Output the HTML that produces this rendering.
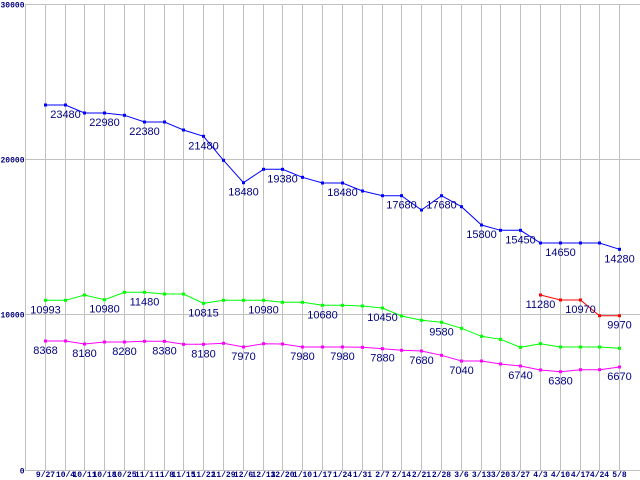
<!DOCTYPE html>
<html><head><meta charset="utf-8"><style>
html,body{margin:0;padding:0;background:#fff;}
svg{display:block;}
.ax{font-family:"Liberation Mono",monospace;font-weight:bold;font-size:8px;fill:#000080;}
.lb{font-family:"Liberation Sans",sans-serif;font-size:11px;fill:#000080;text-anchor:middle;}
</style></head><body>
<svg width="640" height="480" viewBox="0 0 640 480" xmlns="http://www.w3.org/2000/svg">
<rect width="640" height="480" fill="#fff"/>
<g stroke="#c0c0c0" stroke-width="1" shape-rendering="crispEdges">
<line x1="25" y1="4.5" x2="640" y2="4.5"/>
<line x1="25" y1="159.5" x2="640" y2="159.5"/>
<line x1="25" y1="314.5" x2="640" y2="314.5"/>
<line x1="25" y1="470.5" x2="640" y2="470.5"/>
<line x1="25.5" y1="4" x2="25.5" y2="471"/>
<line x1="45.5" y1="4" x2="45.5" y2="471"/>
<line x1="65.5" y1="4" x2="65.5" y2="471"/>
<line x1="84.5" y1="4" x2="84.5" y2="471"/>
<line x1="104.5" y1="4" x2="104.5" y2="471"/>
<line x1="124.5" y1="4" x2="124.5" y2="471"/>
<line x1="144.5" y1="4" x2="144.5" y2="471"/>
<line x1="164.5" y1="4" x2="164.5" y2="471"/>
<line x1="183.5" y1="4" x2="183.5" y2="471"/>
<line x1="203.5" y1="4" x2="203.5" y2="471"/>
<line x1="223.5" y1="4" x2="223.5" y2="471"/>
<line x1="243.5" y1="4" x2="243.5" y2="471"/>
<line x1="263.5" y1="4" x2="263.5" y2="471"/>
<line x1="282.5" y1="4" x2="282.5" y2="471"/>
<line x1="302.5" y1="4" x2="302.5" y2="471"/>
<line x1="322.5" y1="4" x2="322.5" y2="471"/>
<line x1="342.5" y1="4" x2="342.5" y2="471"/>
<line x1="362.5" y1="4" x2="362.5" y2="471"/>
<line x1="382.5" y1="4" x2="382.5" y2="471"/>
<line x1="401.5" y1="4" x2="401.5" y2="471"/>
<line x1="421.5" y1="4" x2="421.5" y2="471"/>
<line x1="441.5" y1="4" x2="441.5" y2="471"/>
<line x1="461.5" y1="4" x2="461.5" y2="471"/>
<line x1="481.5" y1="4" x2="481.5" y2="471"/>
<line x1="500.5" y1="4" x2="500.5" y2="471"/>
<line x1="520.5" y1="4" x2="520.5" y2="471"/>
<line x1="540.5" y1="4" x2="540.5" y2="471"/>
<line x1="560.5" y1="4" x2="560.5" y2="471"/>
<line x1="580.5" y1="4" x2="580.5" y2="471"/>
<line x1="599.5" y1="4" x2="599.5" y2="471"/>
<line x1="619.5" y1="4" x2="619.5" y2="471"/>
</g>
<g class="ax" text-anchor="end">
<text x="24.5" y="7.5">30000</text>
<text x="24.5" y="162.5">20000</text>
<text x="24.5" y="317.5">10000</text>
<text x="24.5" y="473.5">0</text>
</g>
<g class="ax" text-anchor="middle">
<text x="45.5" y="477">9/27</text><text x="65.5" y="477">10/4</text><text x="84.5" y="477">10/11</text><text x="104.5" y="477">10/18</text><text x="124.5" y="477">10/25</text><text x="144.5" y="477">11/1</text><text x="164.5" y="477">11/8</text><text x="183.5" y="477">11/15</text><text x="203.5" y="477">11/22</text><text x="223.5" y="477">11/29</text><text x="243.5" y="477">12/6</text><text x="263.5" y="477">12/13</text><text x="282.5" y="477">12/20</text><text x="302.5" y="477">1/10</text><text x="322.5" y="477">1/17</text><text x="342.5" y="477">1/24</text><text x="362.5" y="477">1/31</text><text x="382.5" y="477">2/7</text><text x="401.5" y="477">2/14</text><text x="421.5" y="477">2/21</text><text x="441.5" y="477">2/28</text><text x="461.5" y="477">3/6</text><text x="481.5" y="477">3/13</text><text x="500.5" y="477">3/20</text><text x="520.5" y="477">3/27</text><text x="540.5" y="477">4/3</text><text x="560.5" y="477">4/10</text><text x="580.5" y="477">4/17</text><text x="599.5" y="477">4/24</text><text x="619.5" y="477">5/8</text>
</g>
<g fill="none" stroke-width="1">
<polyline stroke="#0000ff" points="45.5,105 65.5,105 84.5,113 104.5,113 124.5,115.3 144.5,122 164.5,122 183.5,130 203.5,136.3 223.5,160.3 243.5,182.7 263.5,169.3 282.5,169.3 302.5,177.3 322.5,183 342.5,183 362.5,191 382.5,195.7 401.5,195.7 421.5,210 441.5,195.7 461.5,206.7 481.5,225 500.5,230.3 520.5,230.3 540.5,243 560.5,243 580.5,243 599.5,243 619.5,249.3"/>
<polyline stroke="#00ff00" points="45.5,300.3 65.5,300.3 84.5,295 104.5,299.7 124.5,292.3 144.5,292.3 164.5,294 183.5,294 203.5,303.3 223.5,300.3 243.5,300.3 263.5,300.3 282.5,302.3 302.5,302.3 322.5,305.3 342.5,305.3 362.5,306 382.5,308 401.5,316 421.5,320.3 441.5,322.3 461.5,328.3 481.5,336.3 500.5,339.3 520.5,347.3 540.5,343.7 560.5,347 580.5,347 599.5,347 619.5,348.3"/>
<polyline stroke="#ff00ff" points="45.5,341 65.5,341 84.5,344 104.5,342 124.5,342 144.5,341.3 164.5,341.3 183.5,344.3 203.5,344.3 223.5,343.3 243.5,347 263.5,343.7 282.5,344 302.5,347 322.5,347 342.5,347 362.5,347.3 382.5,348.7 401.5,350.3 421.5,351 441.5,355.3 461.5,361 481.5,361 500.5,364 520.5,366 540.5,370 560.5,371.7 580.5,369.7 599.5,369.7 619.5,367"/>
<polyline stroke="#ff0000" points="540.5,295 560.5,300 580.5,300 599.5,315.7 619.5,315.7"/>
</g>
<g id="markers"></g>
<script>
(function(){
var xs=[45.5,65.5,84.5,104.5,124.5,144.5,164.5,183.5,203.5,223.5,243.5,263.5,282.5,302.5,322.5,342.5,362.5,382.5,401.5,421.5,441.5,461.5,481.5,500.5,520.5,540.5,560.5,580.5,599.5,619.5];
var S={"#0000ff":[105,105,113,113,115.3,122,122,130,136.3,160.3,182.7,169.3,169.3,177.3,183,183,191,195.7,195.7,210,195.7,206.7,225,230.3,230.3,243,243,243,243,249.3],
"#00ff00":[300.3,300.3,295,299.7,292.3,292.3,294,294,303.3,300.3,300.3,300.3,302.3,302.3,305.3,305.3,306,308,316,320.3,322.3,328.3,336.3,339.3,347.3,343.7,347,347,347,348.3],
"#ff00ff":[341,341,344,342,342,341.3,341.3,344.3,344.3,343.3,347,343.7,344,347,347,347,347.3,348.7,350.3,351,355.3,361,361,364,366,370,371.7,369.7,369.7,367]};
var g=document.getElementById("markers"),ns="http://www.w3.org/2000/svg";
function sq(x,y,c){var r=document.createElementNS(ns,"rect");r.setAttribute("x",x-1.5);r.setAttribute("y",y-1.5);r.setAttribute("width",3);r.setAttribute("height",3);r.setAttribute("fill",c);g.appendChild(r);}
for(var c in S){for(var i=0;i<30;i++)sq(xs[i],S[c][i],c);}
var red=[295,300,300,315.7,315.7];for(var j=0;j<5;j++)sq(xs[25+j],red[j],"#ff0000");
})();
</script>
<g class="lb">
<text x="65.5" y="118">23480</text>
<text x="104.5" y="126">22980</text>
<text x="144.5" y="135">22380</text>
<text x="203.5" y="149.3">21480</text>
<text x="243.5" y="195.7">18480</text>
<text x="282.5" y="182.3">19380</text>
<text x="342.5" y="196">18480</text>
<text x="401.5" y="208.7">17680</text>
<text x="441.5" y="208.7">17680</text>
<text x="481.5" y="238">15800</text>
<text x="520.5" y="243.3">15450</text>
<text x="560.5" y="256">14650</text>
<text x="619.5" y="262.3">14280</text>
<text x="45.5" y="313.3">10993</text>
<text x="104.5" y="312.7">10980</text>
<text x="144.5" y="305.3">11480</text>
<text x="203.5" y="316.3">10815</text>
<text x="263.5" y="313.3">10980</text>
<text x="322.5" y="318.3">10680</text>
<text x="382.5" y="321">10450</text>
<text x="441.5" y="335.3">9580</text>
<text x="45.5" y="354">8368</text>
<text x="84.5" y="357">8180</text>
<text x="124.5" y="355">8280</text>
<text x="164.5" y="354.3">8380</text>
<text x="203.5" y="357.3">8180</text>
<text x="243.5" y="360">7970</text>
<text x="302.5" y="360">7980</text>
<text x="342.5" y="360">7980</text>
<text x="382.5" y="361.7">7880</text>
<text x="421.5" y="364">7680</text>
<text x="461.5" y="374">7040</text>
<text x="520.5" y="379">6740</text>
<text x="560.5" y="384.7">6380</text>
<text x="619.5" y="380">6670</text>
<text x="540.5" y="308">11280</text>
<text x="580.5" y="313">10970</text>
<text x="619.5" y="328.7">9970</text>
</g>
</svg>
</body></html>
